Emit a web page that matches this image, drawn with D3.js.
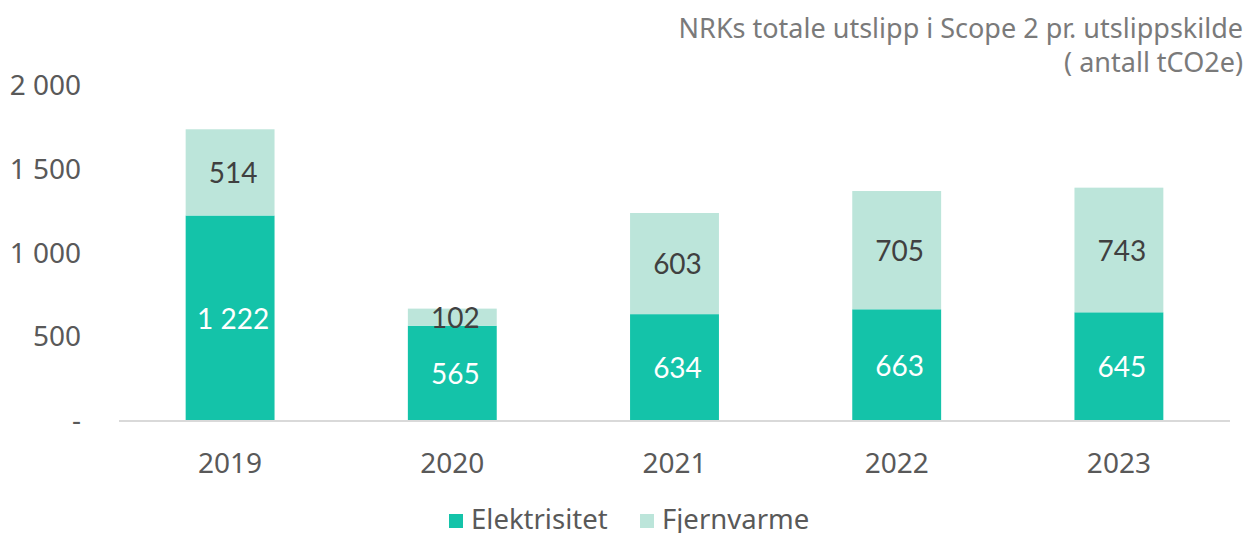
<!DOCTYPE html>
<html><head><meta charset="utf-8">
<script src="https://cdn.jsdelivr.net/npm/d3@7/dist/d3.min.js"></script>
<style>body{margin:0;background:#fff}svg{display:block}</style>
</head><body><svg id="c" width="1247" height="533"></svg>
<script>
const years = ["2019","2020","2021","2022","2023"];
const elektrisitet = [1222, 565, 634, 663, 645];
const fjernvarme = [514, 102, 603, 705, 743];
const seriesNames = ["Elektrisitet","Fjernvarme"];
const yTicks = [0, 500, 1000, 1500, 2000];
const titleLines = ["NRKs totale utslipp i Scope 2 pr. utslippskilde","( antall tCO2e)"];

const colors = {Elektrisitet:"#14c3a9", Fjernvarme:"#bce5da"};
const svg = d3.select("#c");
const font = "'Noto Sans', 'Open Sans', sans-serif";
const labelFont = "Lato, 'Noto Sans', sans-serif";

const x = d3.scaleBand().domain(years).range([119,1230]).paddingInner(0.6).paddingOuter(0.3);
const y = d3.scaleLinear().domain([0,2000]).range([420.5,85]);

const rows = years.map((yr,i)=>({year:yr, Elektrisitet:elektrisitet[i], Fjernvarme:fjernvarme[i]}));
const stack = d3.stack().keys(seriesNames)(rows);

// title
svg.append("text").attr("x",1243).attr("y",38).attr("text-anchor","end")
  .style("font-family",font).style("font-size","27px").attr("fill","#7a7a7a")
  .selectAll("tspan").data(titleLines).join("tspan")
  .attr("x",1243).attr("dy",(d,i)=>i?34:0).text(d=>d);

// y axis labels
const fmt = v => v===0 ? "-" : d3.format(",")(v).replace(/,/g," ");
svg.append("g").selectAll("text").data(yTicks).join("text")
  .attr("x",81).attr("y",d=>y(d)).attr("dy","0.35em").attr("text-anchor","end")
  .style("font-family",font).style("font-size","28px").attr("fill","#595959")
  .text(fmt);

// bars
const g = svg.append("g");
stack.forEach(s=>{
  g.append("g").selectAll("rect").data(s).join("rect")
    .attr("x",d=>x(d.data.year)).attr("width",x.bandwidth())
    .attr("y",d=>y(d[1])).attr("height",d=>y(d[0])-y(d[1]))
    .attr("fill",colors[s.key]);
});

// axis line
svg.append("line").attr("x1",119).attr("x2",1230).attr("y1",421).attr("y2",421)
  .attr("stroke","#d9d9d9").attr("stroke-width",2);

// data labels
stack.forEach(s=>{
  svg.append("g").selectAll("text").data(s).join("text")
    .attr("x",d=>x(d.data.year)+x.bandwidth()/2+3)
    .attr("y",d=>(y(d[0])+y(d[1]))/2+1).attr("dy","0.35em").attr("text-anchor","middle")
    .style("font-family",labelFont).style("font-size","28px")
    .attr("fill",s.key==="Elektrisitet"?"#ffffff":"#404040")
    .text(d=>fmt(d[1]-d[0]));
});

// x labels
svg.append("g").selectAll("text").data(years).join("text")
  .attr("x",d=>x(d)+x.bandwidth()/2).attr("y",463).attr("dy","0.35em").attr("text-anchor","middle")
  .style("font-family",font).style("font-size","28px").attr("fill","#595959").text(d=>d);

// legend
const legX = [449, 640];
seriesNames.forEach((n,i)=>{
  svg.append("rect").attr("x",legX[i]).attr("y",514).attr("width",14).attr("height",14).attr("fill",colors[n]);
  svg.append("text").attr("x",legX[i]+22).attr("y",529)
    .style("font-family",font).style("font-size","27.5px").attr("fill","#595959").text(n);
});
</script></body></html>
